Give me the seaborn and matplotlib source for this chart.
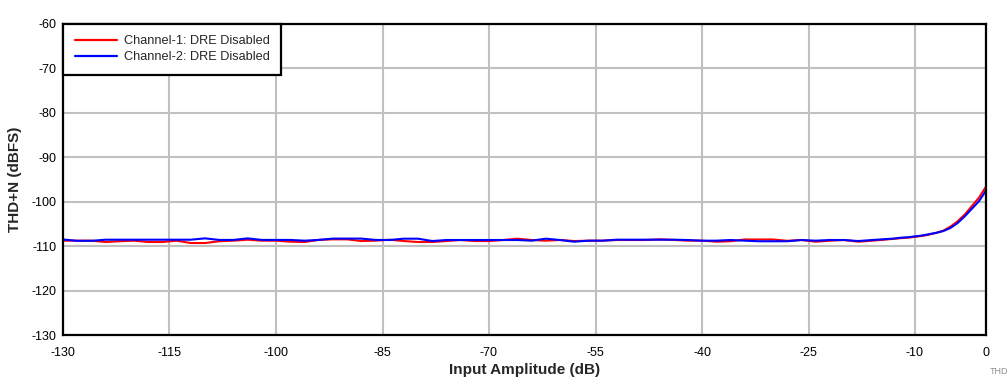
import numpy as np
import pandas as pd
import matplotlib
matplotlib.use("Agg")
import matplotlib.pyplot as plt
import seaborn as sns

# Input amplitude (dB)
x_db = [-130, -128, -126, -124, -122, -120, -118, -116, -114, -112, -110,
        -108, -106, -104, -102, -100, -98, -96, -94, -92, -90, -88, -86,
        -84, -82, -80, -78, -76, -74, -72, -70, -68, -66, -64, -62, -60,
        -58, -56, -54, -52, -50, -48, -46, -44, -42, -40, -38, -36, -34,
        -32, -30, -28, -26, -24, -22, -20, -18, -16, -14, -13, -12, -11,
        -10, -9, -8, -7, -6, -5, -4, -3, -2, -1, 0]

# Channel-1: DRE Disabled (red)
ch1 = [-108.77, -108.77, -108.77, -109.07, -108.9, -108.77, -109.07, -109.07,
       -108.77, -109.3, -109.3, -108.9, -108.77, -108.55, -108.77, -108.77,
       -109.0, -109.07, -108.6, -108.47, -108.47, -108.85, -108.77,
       -108.55, -108.85, -109.07, -109.07, -108.85, -108.62, -108.85, -108.85,
       -108.62, -108.32, -108.62, -108.77, -108.62, -108.85, -108.77, -108.77,
       -108.62, -108.62, -108.62, -108.47, -108.6, -108.77, -108.77, -109.0,
       -108.9, -108.5, -108.5, -108.5, -108.8, -108.62, -109.0, -108.77,
       -108.62, -109.0, -108.77, -108.5, -108.35, -108.2, -108.1, -107.9,
       -107.7, -107.4, -107.0, -106.5, -105.6, -104.4, -102.9, -101.0, -99.1,
       -96.6]

# Channel-2: DRE Disabled (blue)
ch2 = [-108.5, -108.8, -108.8, -108.55, -108.55, -108.55, -108.55, -108.55,
       -108.55, -108.55, -108.25, -108.6, -108.6, -108.25, -108.6, -108.6,
       -108.6, -108.77, -108.6, -108.3, -108.3, -108.3, -108.6,
       -108.62, -108.32, -108.32, -108.85, -108.62, -108.62, -108.62, -108.62,
       -108.62, -108.62, -108.77, -108.32, -108.62, -109.0, -108.77, -108.77,
       -108.55, -108.55, -108.55, -108.55, -108.55, -108.62, -108.77, -108.77,
       -108.62, -108.77, -108.9, -108.9, -108.9, -108.62, -108.77, -108.62,
       -108.62, -108.85, -108.62, -108.4, -108.3, -108.1, -108.0, -107.8,
       -107.6, -107.3, -107.0, -106.6, -105.9, -104.8, -103.3, -101.6, -99.9,
       -97.5]

series_names = ["Channel-1: DRE Disabled", "Channel-2: DRE Disabled"]
series_colors = ["#ff0000", "#0000ff"]
x_ticks = [-130, -115, -100, -85, -70, -55, -40, -25, -10, 0]
y_ticks = [-130, -120, -110, -100, -90, -80, -70, -60]

df = pd.concat([
    pd.DataFrame({"x": x_db, "y": ch1, "series": series_names[0]}),
    pd.DataFrame({"x": x_db, "y": ch2, "series": series_names[1]}),
])

sns.set_theme(style="white")
plt.rcParams["font.family"] = ["Liberation Sans", "DejaVu Sans"]

fig = plt.figure(figsize=(10.07, 3.87), dpi=100)
ax = fig.add_axes([63 / 1007, 52 / 387, 923 / 1007, 311 / 387])

sns.lineplot(data=df, x="x", y="y", hue="series", palette=series_colors,
             linewidth=1.5, ax=ax, legend=True, sort=False)

ax.set_xlim(-130, 0)
ax.set_ylim(-130, -60)
ax.set_xticks(x_ticks)
ax.set_yticks(y_ticks)
ax.set_xticklabels([str(t) for t in x_ticks], fontsize=9)
ax.set_yticklabels([str(t) for t in y_ticks], fontsize=9)
ax.tick_params(axis="x", length=0, pad=8.5, colors="black")
ax.tick_params(axis="y", length=0, pad=4.5, colors="black")
ax.grid(True, color="#c0c0c0", linewidth=1.5)
ax.set_axisbelow(True)
for s in ax.spines.values():
    s.set_color("black")
    s.set_linewidth(1.6)
    s.set_visible(True)

ax.set_xlabel("Input Amplitude (dB)", fontsize=11, fontweight="bold", labelpad=3)
ax.set_ylabel("THD+N (dBFS)", fontsize=11, fontweight="bold", labelpad=7)

leg = ax.legend(loc="upper left", fontsize=9.2, frameon=True, fancybox=False,
                borderaxespad=0, handlelength=3.3, borderpad=0.9,
                labelspacing=0.3, handletextpad=0.55)
leg.get_frame().set_edgecolor("black")
leg.get_frame().set_linewidth(1.6)
leg.get_frame().set_alpha(1)
for h in leg.get_lines():
    h.set_linewidth(1.6)

fig.text(990 / 1007, 1 - 372 / 387, "THD", fontsize=6.5, color="#909090",
         ha="left", va="center")

fig.savefig("out.png", dpi=100)
